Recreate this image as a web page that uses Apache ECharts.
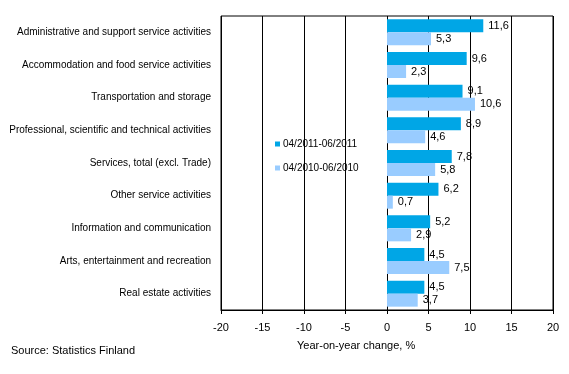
<!DOCTYPE html>
<html><head><meta charset="utf-8">
<script src="https://cdn.jsdelivr.net/npm/echarts@6/dist/echarts.min.js"></script>
<style>html,body{margin:0;padding:0;background:#fff}#c{width:569px;height:374px}</style>
</head><body><div id="c"></div>
<script>
var categories = [
  "Administrative and support service activities",
  "Accommodation and food service activities",
  "Transportation and storage",
  "Professional, scientific and technical activities",
  "Services, total (excl. Trade)",
  "Other service activities",
  "Information and communication",
  "Arts, entertainment and recreation",
  "Real estate activities"
];
var series2011 = [11.6, 9.6, 9.1, 8.9, 7.8, 6.2, 5.2, 4.5, 4.5];
var series2010 = [5.3, 2.3, 10.6, 4.6, 5.8, 0.7, 2.9, 7.5, 3.7];
var seriesNames = ["04/2011-06/2011", "04/2010-06/2010"];
var xTicks = [-20, -15, -10, -5, 0, 5, 10, 15, 20];

var font = "Arial, 'Liberation Sans', sans-serif";
var chart = echarts.init(document.getElementById('c'), null, {renderer: 'canvas'});
function lbl(p) { return String(p.value).replace('.', ','); }
chart.setOption({
  animation: false,
  backgroundColor: '#fff',
  grid: {left: 221, right: 16, top: 16, bottom: 64, show: true, borderColor: '#000', borderWidth: 1},
  legend: {
    orient: 'vertical', left: 270, top: 134, itemWidth: 5, itemHeight: 5, itemGap: 14,
    icon: 'rect',
    textStyle: {fontFamily: font, fontSize: 10, color: '#000', padding: [0, 0, 0, -2]},
    data: seriesNames
  },
  title: [
    {text: 'Source: Statistics Finland', left: 6, top: 340, textStyle: {fontFamily: font, fontSize: 11, fontWeight: 'normal', color: '#000'}},
    {text: 'Year-on-year change, %', left: 292, top: 335, textStyle: {fontFamily: font, fontSize: 11, fontWeight: 'normal', color: '#000'}}
  ],
  xAxis: {
    type: 'value', min: xTicks[0], max: xTicks[xTicks.length - 1], interval: 5,
    axisLine: {show: true, lineStyle: {color: '#000'}},
    axisTick: {show: true, length: 4, lineStyle: {color: '#000'}},
    axisLabel: {fontFamily: font, fontSize: 11, color: '#000', margin: 12},
    splitLine: {show: true, lineStyle: {color: '#000', width: 1}}
  },
  yAxis: {
    type: 'category', data: categories, inverse: true,
    axisLine: {show: false}, axisTick: {show: false},
    axisLabel: {fontFamily: font, fontSize: 10, color: '#000', margin: 10}
  },
  series: [
    {name: seriesNames[0], type: 'bar', data: series2011, barWidth: 13, barGap: '0%',
     itemStyle: {color: '#00A6E6'},
     label: {show: true, position: 'right', distance: 5, formatter: lbl, fontFamily: font, fontSize: 11, color: '#000'}},
    {name: seriesNames[1], type: 'bar', data: series2010, barWidth: 13, barGap: '0%',
     itemStyle: {color: '#99CCFF'},
     label: {show: true, position: 'right', distance: 5, formatter: lbl, fontFamily: font, fontSize: 11, color: '#000'}}
  ]
});
</script></body></html>
